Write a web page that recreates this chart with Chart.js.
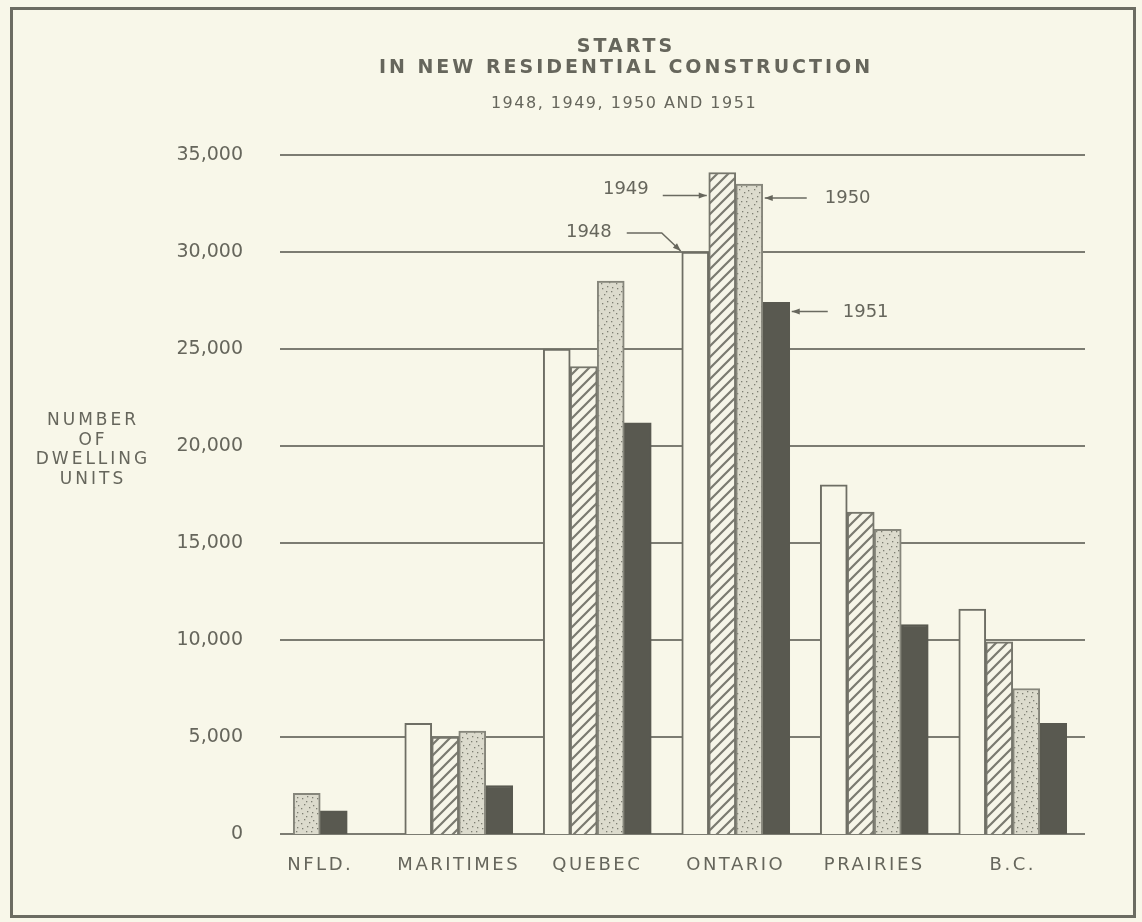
<!DOCTYPE html>
<html>
<head>
<meta charset="utf-8">
<script src="https://cdn.jsdelivr.net/npm/chart.js@4.4.1/dist/chart.umd.min.js"></script>
<style>
  html, body { margin: 0; padding: 0; background: #f8f7e9; }
  canvas { display: block; }
</style>
</head>
<body>
<canvas id="startsChart" width="1142" height="922"></canvas>
<script>
// housing starts by region
const regions = ['NFLD.', 'MARITIMES', 'QUEBEC', 'ONTARIO', 'PRAIRIES', 'B.C.'];
const years = ['1948', '1949', '1950', '1951'];
const starts1948 = [null, 5700, 25000, 30000, 18000, 11600];
const starts1949 = [null, 5000, 24100, 34100, 16600, 9900];
const starts1950 = [2100, 5300, 28500, 33500, 15700, 7500];
const starts1951 = [1200, 2500, 21200, 27400, 10800, 5700];
const yTicks = [0, 5000, 10000, 15000, 20000, 25000, 30000, 35000];
const titleLines = ['STARTS', 'IN NEW RESIDENTIAL CONSTRUCTION', '1948, 1949, 1950 AND 1951'];
const yTitleLines = ['NUMBER', 'OF', 'DWELLING', 'UNITS'];

const ink = '#66665c';
const paper = '#f8f7e9';
const font = '"DejaVu Sans", sans-serif';

function hatchPattern() {
    const c = document.createElement('canvas');
    c.width = 11; c.height = 11;
    const g = c.getContext('2d');
    g.fillStyle = '#f6f5e8';
    g.fillRect(0, 0, 11, 11);
    g.strokeStyle = '#7a7a70';
    g.lineWidth = 2.2;
    g.beginPath();
    g.moveTo(-2, 13); g.lineTo(13, -2);
    g.moveTo(-2, 2); g.lineTo(2, -2);
    g.moveTo(9, 13); g.lineTo(13, 9);
    g.stroke();
    return g.createPattern(c, 'repeat');
}

const stippleDots = [[2, 3], [7, 1], [11, 6], [4, 9], [9, 12], [13, 10], [1, 13], [6, 6], [12, 2]];
function stipplePattern() {
    const c = document.createElement('canvas');
    c.width = 15; c.height = 15;
    const g = c.getContext('2d');
    g.fillStyle = '#dcdbcd';
    g.fillRect(0, 0, 15, 15);
    g.fillStyle = '#7d7d72';
    stippleDots.forEach(d => g.fillRect(d[0], d[1], 1.3, 1.3));
    return g.createPattern(c, 'repeat');
}

const fills = [paper, hatchPattern(), stipplePattern(), '#595950'];
const edges = ['#6e6e64', '#76766c', '#86867b', '#595950'];
const series = [starts1948, starts1949, starts1950, starts1951];

const datasets = years.map((yr, i) => ({
    label: yr,
    data: series[i],
    backgroundColor: fills[i],
    borderColor: edges[i],
    borderWidth: 2,
    borderSkipped: 'bottom',
    barThickness: 27,
    skipNull: true
}));

// page background, frame, titles
const decor = {
    id: 'decor',
    beforeDraw(chart) {
        const ctx = chart.ctx;
        ctx.save();
        ctx.fillStyle = paper;
        ctx.fillRect(0, 0, chart.width, chart.height);
        ctx.strokeStyle = '#6c6c62';
        ctx.lineWidth = 3;
        ctx.strokeRect(11.5, 8.5, 1123, 908);

        ctx.fillStyle = ink;
        ctx.textAlign = 'center';
        ctx.textBaseline = 'middle';
        ctx.letterSpacing = '3px';
        ctx.font = 'bold 19px ' + font;
        ctx.fillText(titleLines[0], 626, 47);
        ctx.fillText(titleLines[1], 626, 68);
        ctx.letterSpacing = '1.5px';
        ctx.font = '16px ' + font;
        ctx.fillText(titleLines[2], 624, 104);

        ctx.letterSpacing = '3px';
        ctx.font = '17px ' + font;
        yTitleLines.forEach((t, i) => ctx.fillText(t, 93, 421 + i * 19.5));
        ctx.restore();
    },
    beforeDatasetsDraw(chart) {
        const ctx = chart.ctx;
        const y = chart.scales.y;
        const a = chart.chartArea;
        ctx.save();
        ctx.strokeStyle = '#7c7c72';
        ctx.lineWidth = 2;
        y.ticks.forEach(t => {
            const py = Math.round(y.getPixelForValue(t.value));
            ctx.beginPath();
            ctx.moveTo(a.left + 29, py);
            ctx.lineTo(a.right + 3, py);
            ctx.stroke();
        });
        ctx.restore();
    },
    afterLayout(chart) {
        const s = chart.scales.x;
        if (s._spaced) return;
        const orig = s.drawLabels;
        s.drawLabels = function (area) {
            this.ctx.save();
            this.ctx.letterSpacing = '2.5px';
            orig.call(this, area);
            this.ctx.restore();
        };
        s._spaced = true;
    }
};

// year call-outs on the Ontario group
function arrow(ctx, pts) {
    ctx.beginPath();
    ctx.moveTo(pts[0][0], pts[0][1]);
    for (let i = 1; i < pts.length; i++) ctx.lineTo(pts[i][0], pts[i][1]);
    ctx.stroke();
    const [x1, y1] = pts[pts.length - 2];
    const [x2, y2] = pts[pts.length - 1];
    const ang = Math.atan2(y2 - y1, x2 - x1);
    ctx.beginPath();
    ctx.moveTo(x2, y2);
    ctx.lineTo(x2 - 8 * Math.cos(ang) + 3 * Math.sin(ang), y2 - 8 * Math.sin(ang) - 3 * Math.cos(ang));
    ctx.lineTo(x2 - 8 * Math.cos(ang) - 3 * Math.sin(ang), y2 - 8 * Math.sin(ang) + 3 * Math.cos(ang));
    ctx.closePath();
    ctx.fill();
}

const callouts = {
    id: 'callouts',
    afterDatasetsDraw(chart) {
        const idx = regions.indexOf('ONTARIO');
        const box = di => {
            const b = chart.getDatasetMeta(di).data[idx];
            return { l: b.x - b.width / 2, r: b.x + b.width / 2, t: b.y };
        };
        const ctx = chart.ctx;
        ctx.save();
        ctx.strokeStyle = '#6a6a60';
        ctx.fillStyle = ink;
        ctx.lineWidth = 1.5;
        ctx.font = '18px ' + font;
        ctx.textBaseline = 'middle';

        const b0 = box(0);
        arrow(ctx, [[b0.l - 55, b0.t - 19], [b0.l - 20, b0.t - 19], [b0.l - 1, b0.t - 1]]);
        ctx.textAlign = 'right';
        ctx.fillText(years[0], b0.l - 70, b0.t - 20);

        const b1 = box(1);
        const t1 = [b1.l - 2, b1.t + 23];
        arrow(ctx, [[t1[0] - 44, t1[1]], t1]);
        ctx.fillText(years[1], t1[0] - 58, t1[1] - 6);

        ctx.textAlign = 'left';
        const b2 = box(2);
        const t2 = [b2.r + 2, b2.t + 14];
        arrow(ctx, [[t2[0] + 42, t2[1]], t2]);
        ctx.fillText(years[2], t2[0] + 60, t2[1]);

        const b3 = box(3);
        const t3 = [b3.r + 2, b3.t + 9];
        arrow(ctx, [[t3[0] + 36, t3[1]], t3]);
        ctx.fillText(years[3], t3[0] + 51, t3[1] + 1);
        ctx.restore();
    }
};

new Chart(document.getElementById('startsChart').getContext('2d'), {
    type: 'bar',
    data: { labels: regions, datasets: datasets },
    plugins: [decor, callouts],
    options: {
        responsive: false,
        devicePixelRatio: 1,
        animation: false,
        layout: { padding: { top: 155, left: 151, right: 60, bottom: 28 } },
        plugins: {
            legend: { display: false },
            title: { display: false },
            tooltip: { enabled: false }
        },
        scales: {
            x: {
                grid: { display: false },
                border: { display: false },
                ticks: { color: ink, font: { family: font, size: 18 }, padding: 13 },
                afterFit: s => { s.height = 60; }
            },
            y: {
                min: 0,
                max: 35000,
                grid: { display: false },
                border: { display: false },
                afterBuildTicks: s => { s.ticks = yTicks.map(v => ({ value: v })); },
                ticks: {
                    color: ink,
                    font: { family: font, size: 19 },
                    padding: 0,
                    callback: v => v.toLocaleString('en-US')
                },
                afterFit: s => { s.width = 100; }
            }
        }
    }
});
</script>
</body>
</html>
